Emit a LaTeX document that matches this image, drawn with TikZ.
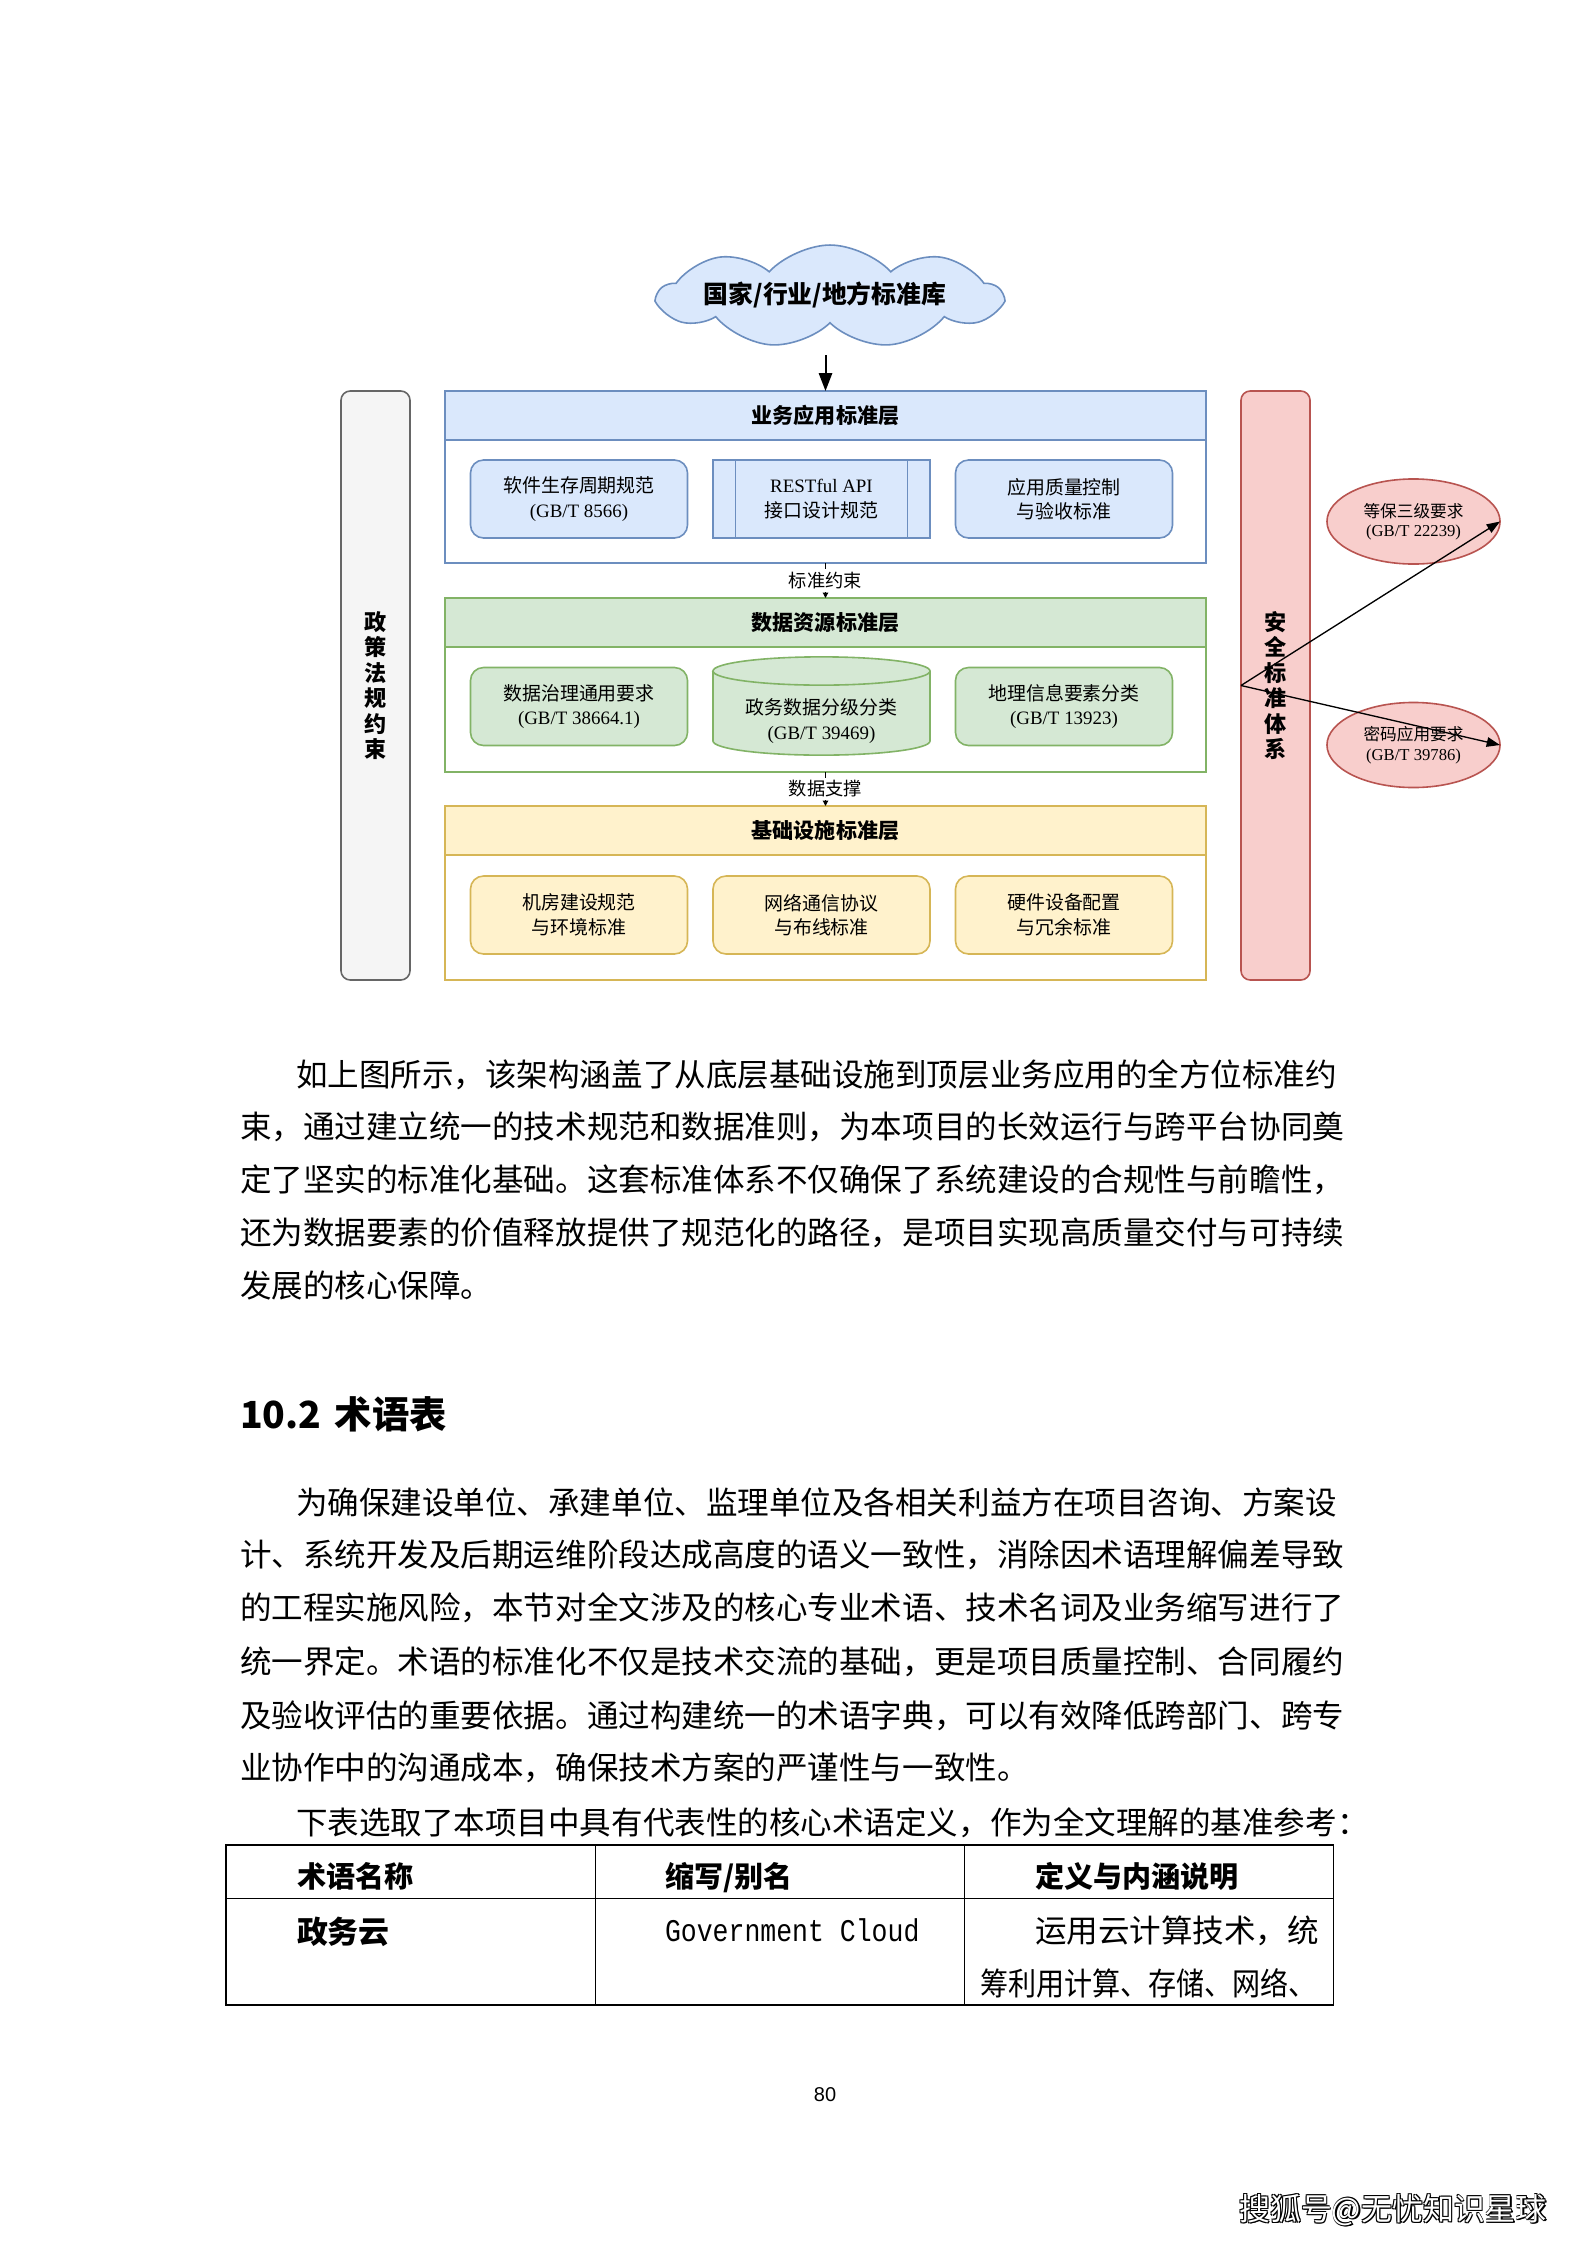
\documentclass[tikz,border=0pt]{standalone}
\usepackage{fontspec}
\setmainfont{Liberation Serif}
\newfontfamily\cjk{Noto Sans CJK SC}
\newfontfamily\sanslat{Liberation Sans}
\newfontfamily\monolat{Liberation Mono}
\usetikzlibrary{shapes.geometric,shapes.symbols,arrows.meta,fit}
\definecolor{bfill}{HTML}{DAE8FC}\definecolor{bline}{HTML}{6C8EBF}
\definecolor{gfill}{HTML}{D5E8D4}\definecolor{gline}{HTML}{82B366}
\definecolor{yfill}{HTML}{FFF2CC}\definecolor{yline}{HTML}{D6B656}
\definecolor{rfill}{HTML}{F8CECC}\definecolor{rline}{HTML}{B85450}
\definecolor{kfill}{HTML}{F5F5F5}\definecolor{kline}{HTML}{666666}
\tikzset{
  lbody/.style={draw=#1line, fill=white, line width=0.6pt, inner sep=0pt},
  lhead/.style={draw=#1line, fill=#1fill, line width=0.6pt, inner sep=0pt},
  htext/.style={font=\cjk\bfseries\fontsize{7.9pt}{9pt}\selectfont},
  ibox/.style={draw=#1line, fill=#1fill, line width=0.6pt, rounded corners=4.9pt,
    minimum width=81.4pt, minimum height=29.25pt, align=center,
    font=\cjk\fontsize{7.1pt}{9.2pt}\selectfont},
  sidebar/.style={draw=#1line, fill=#1fill, line width=0.6pt, rounded corners=3.5pt,
    minimum width=25.9pt, minimum height=220.9pt, align=center,
    font=\cjk\bfseries\fontsize{8.3pt}{9.56pt}\selectfont},
  redell/.style={ellipse, draw=rline, fill=rfill, line width=0.6pt,
    minimum width=64.9pt, minimum height=31.9pt, align=center,
    font=\cjk\fontsize{6.25pt}{7.3pt}\selectfont},
  linklabel/.style={fill=white, inner sep=1pt, font=\cjk\fontsize{6.85pt}{8pt}\selectfont},
  bodytxt/.style={anchor=base west, inner sep=0pt, font=\cjk\fontsize{11.83pt}{14pt}\selectfont},
  thead/.style={anchor=base west, inner sep=0pt, font=\cjk\bfseries\fontsize{10.9pt}{13pt}\selectfont},
  tline/.style={line width=0.56pt, draw=black},
  sohutxt/.style={font=\cjk\fontsize{11.6pt}{13pt}\selectfont},
}
\begin{document}
\begin{tikzpicture}[x=0.375pt,y=-0.375pt, every node/.style={inner sep=0pt, outer sep=0pt}]
\fill[white] (0,0) rectangle (1587,2245);
\useasboundingbox (0,0) rectangle (1587,2245);

% ---------- cloud ----------
\node[cloud, cloud puffs=9, cloud puff arc=95, aspect=3.3, draw=bline, fill=bfill,
  line width=0.6pt, minimum width=128.25pt, minimum height=38.6pt] (cloud) at (830,296.5) {};
\node[font=\cjk\bfseries\fontsize{9.3pt}{11pt}\selectfont] (cloudt) at (825,295) {国家/行业/地方标准库};
\coordinate (cloudout) at (825.5,355);

% ---------- layers ----------
\node[lbody=b, fit={(445,391) (1206,563)}] (L1) {};
\node[lhead=b, fit={(445,391) (1206,440)}] (L1h) {};
\node[htext] (L1t) at (L1h.center) {业务应用标准层};

\node[lbody=g, fit={(445,598) (1206,772)}] (L2) {};
\node[lhead=g, fit={(445,598) (1206,647)}] (L2h) {};
\node[htext] (L2t) at (L2h.center) {数据资源标准层};

\node[lbody=y, fit={(445,806) (1206,980)}] (L3) {};
\node[lhead=y, fit={(445,806) (1206,855)}] (L3h) {};
\node[htext] (L3t) at (L3h.center) {基础设施标准层};

% ---------- inner boxes ----------
\node[ibox=b] (b11) at (579,499) {软件生存周期规范\\{\rmfamily (GB/T 8566)}};
\node[ibox=b, sharp corners] (b12) at (821.5,499) {{\rmfamily RESTful API}\\接口设计规范};
\draw[bline, line width=0.6pt] ([xshift=8.5pt]b12.north west) -- ([xshift=8.5pt]b12.south west);
\draw[bline, line width=0.6pt] ([xshift=-8.5pt]b12.north east) -- ([xshift=-8.5pt]b12.south east);
\node[ibox=b] (b13) at (1064,499) {应用质量控制\\与验收标准};

\node[ibox=g] (g1) at (579,706.5) {数据治理通用要求\\{\rmfamily (GB/T 38664.1)}};
\draw[draw=gline, fill=gfill, line width=0.6pt] (713,671) -- (713,741)
  arc[start angle=180, end angle=360, x radius=40.69pt, y radius=5.3pt] -- (930,671)
  arc[start angle=0, end angle=180, x radius=40.69pt, y radius=5.3pt] -- cycle;
\draw[draw=gline, line width=0.6pt] (713,671)
  arc[start angle=180, end angle=360, x radius=40.69pt, y radius=5.3pt];
\node[align=center, font=\cjk\fontsize{7.1pt}{9.2pt}\selectfont] (g2) at (821.5,721) {政务数据分级分类\\{\rmfamily (GB/T 39469)}};
\node[ibox=g] (g3) at (1064,706.5) {地理信息要素分类\\{\rmfamily (GB/T 13923)}};

\node[ibox=y] (y1) at (579,915) {机房建设规范\\与环境标准};
\node[ibox=y] (y2) at (821.5,915) {网络通信协议\\与布线标准};
\node[ibox=y] (y3) at (1064,915) {硬件设备配置\\与冗余标准};

% ---------- side bars ----------
\node[sidebar=k] (pol) at (375.5,685.5) {政\\策\\法\\规\\约\\束};
\node[sidebar=r] (sec) at (1275.5,685.5) {安\\全\\标\\准\\体\\系};

\node[redell] (e1) at (1413.5,521.5) {等保三级要求\\{\rmfamily (GB/T 22239)}};
\node[redell] (e2) at (1413.5,745) {密码应用要求\\{\rmfamily (GB/T 39786)}};

% ---------- connectors ----------
\draw[-{Triangle[length=6.75pt,width=5pt]}, line width=0.75pt] (cloudout) -- (L1h.north);
\draw[-{Triangle[length=2pt,width=2pt]}, line width=0.4pt] (L1.south) -- node[linklabel] (lab1) {标准约束} (L2h.north);
\draw[-{Triangle[length=2pt,width=2pt]}, line width=0.4pt] (L2.south) -- node[linklabel] (lab2) {数据支撑} (L3h.north);
\draw[-{Triangle[length=5pt,width=3.6pt]}, line width=0.5pt] (sec.west) -- (e1.east);
\draw[-{Triangle[length=5pt,width=3.6pt]}, line width=0.5pt] (sec.west) -- (e2.east);

% ---------- paragraph 1 ----------
\node[bodytxt] (p11) at (296,1086) {如上图所示，该架构涵盖了从底层基础设施到顶层业务应用的全方位标准约};
\node[bodytxt] (p12) at (240,1138.7) {束，通过建立统一的技术规范和数据准则，为本项目的长效运行与跨平台协同奠};
\node[bodytxt] (p13) at (240,1191.4) {定了坚实的标准化基础。这套标准体系不仅确保了系统建设的合规性与前瞻性，};
\node[bodytxt] (p14) at (240,1244.2) {还为数据要素的价值释放提供了规范化的路径，是项目实现高质量交付与可持续};
\node[bodytxt] (p15) at (240,1297) {发展的核心保障。};

% ---------- heading ----------
\node[anchor=base west, font=\cjk\bfseries\fontsize{14pt}{16pt}\selectfont] (h102) at (240,1428) {\makebox[35.6pt][l]{10.2}术语表};

% ---------- paragraph 2 ----------
\node[bodytxt] (p21) at (296,1514.5) {为确保建设单位、承建单位、监理单位及各相关利益方在项目咨询、方案设};
\node[bodytxt] (p22) at (240,1566.5) {计、系统开发及后期运维阶段达成高度的语义一致性，消除因术语理解偏差导致};
\node[bodytxt] (p23) at (240,1619.5) {的工程实施风险，本节对全文涉及的核心专业术语、技术名词及业务缩写进行了};
\node[bodytxt] (p24) at (240,1673) {统一界定。术语的标准化不仅是技术交流的基础，更是项目质量控制、合同履约};
\node[bodytxt] (p25) at (240,1727) {及验收评估的重要依据。通过构建统一的术语字典，可以有效降低跨部门、跨专};
\node[bodytxt] (p26) at (240,1779.5) {业协作中的沟通成本，确保技术方案的严谨性与一致性。};
\node[bodytxt] (p27) at (296,1834) {下表选取了本项目中具有代表性的核心术语定义，作为全文理解的基准参考：};

% ---------- table ----------
\draw[tline] (226,1845) rectangle (1333.5,2005);
\draw[tline] (226,1898.5) -- (1333.5,1898.5);
\draw[tline] (595.7,1845) -- (595.7,2005);
\draw[tline] (964.3,1845) -- (964.3,2005);
\node[thead] (t1) at (297,1887.7) {术语名称};
\node[thead] (t2) at (665,1887.7) {缩写/别名};
\node[thead] (t3) at (1035,1887.7) {定义与内涵说明};
\node[bodytxt, font=\cjk\bfseries\fontsize{11.6pt}{14pt}\selectfont] (c1) at (297,1943.7) {政务云};
\node[anchor=base west, font=\monolat\fontsize{11.83pt}{14pt}\selectfont] (c2) at (665,1941.7) {\scalebox{0.84}[1]{Government Cloud}};
\node[bodytxt] (c3a) at (1035,1942) {运用云计算技术，统};
\node[bodytxt] (c3b) at (980,1995) {\scalebox{0.89}[1]{筹利用计算、存储、网络、}};

% ---------- footer ----------
\node[font=\sanslat\fontsize{7.5pt}{9pt}\selectfont] (pg) at (825,2095) {80};
\foreach \dx/\dy in {0.9/0.9,-0.9/-0.9,0.9/-0.9,-0.9/0.9,1.6/1.6}{
  \node[sohutxt, text=black] at (1393+\dx,2210+\dy) {搜狐号@无忧知识星球};
}
\node[sohutxt, text=white] (sohu) at (1393,2210) {搜狐号@无忧知识星球};
\end{tikzpicture}
\end{document}
